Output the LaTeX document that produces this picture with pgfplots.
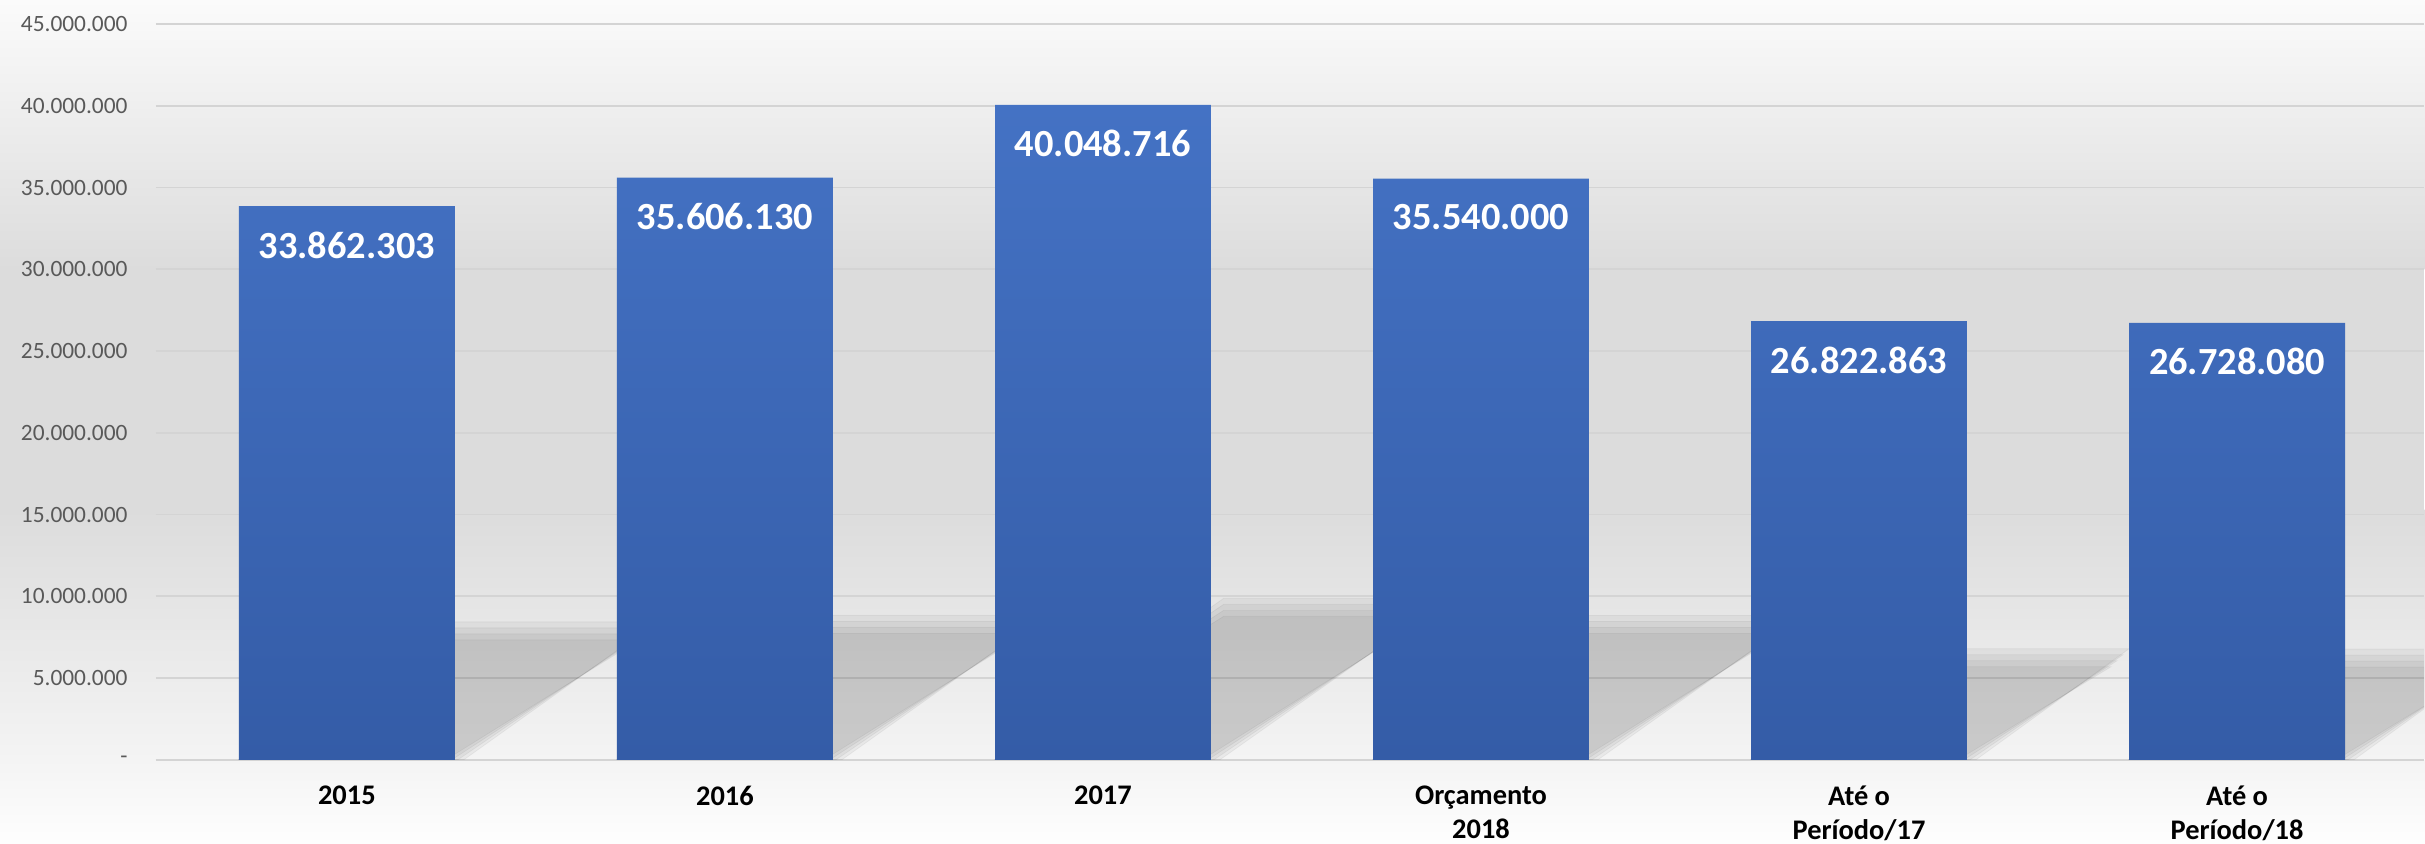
\documentclass[border=0pt]{standalone}
\usepackage{fontspec}
\setmainfont{Carlito}
\usepackage{pgfplots}
\usepackage{pgfplotstable}
\pgfplotsset{compat=1.18}

\definecolor{barTop}{HTML}{4472C4}
\definecolor{barBot}{HTML}{345CA7}
\definecolor{gridc}{HTML}{D4D4D4}
\definecolor{tickc}{HTML}{595959}
\definecolor{bgTop}{HTML}{FBFBFB}
\definecolor{bgMid}{HTML}{DCDCDC}
\definecolor{bgLow}{HTML}{F4F4F4}
\definecolor{bgEnd}{HTML}{FEFEFE}

% valores anuais
\pgfplotstableread{
x y label
0 33862303 33.862.303
1 35606130 35.606.130
2 40048716 40.048.716
3 35540000 35.540.000
4 26822863 26.822.863
5 26728080 26.728.080
}\valores

\begin{document}
\begin{tikzpicture}
% fundo em degrade
\shade[top color=bgTop, bottom color=bgMid, draw=none] (-78pt,245pt) rectangle (1134.5pt,380pt);
\fill[bgMid] (-78pt,125pt) rectangle (1134.5pt,245.2pt);
\shade[top color=bgMid, bottom color=bgLow, draw=none] (-78pt,0pt) rectangle (1134.5pt,125.2pt);
\shade[top color=bgLow, bottom color=bgEnd, draw=none] (-78pt,-42pt) rectangle (1134.5pt,0.2pt);
\begin{axis}[
    at={(0,0)}, anchor=south west,
    scale only axis,
    width=1134.5pt, height=368pt,
    xmin=-0.505, xmax=5.495,
    ymin=0, ymax=45000000,
    xtick={0,...,5},
    xticklabels={2015,2016,2017,{Orçamento\\2018},{Até o\\Período/17},{Até o\\Período/18}},
    ytick={0,5000000,...,45000000},
    yticklabels={-,5.000.000,10.000.000,15.000.000,20.000.000,25.000.000,30.000.000,35.000.000,40.000.000,45.000.000},
    scaled y ticks=false,
    /pgf/number format/assume math mode=true,
    ymajorgrids,
    major grid style={gridc, line width=0.8pt},
    axis x line=bottom,
    axis y line=left,
    x axis line style={gridc, line width=0.8pt, -},
    y axis line style={draw=none},
    major tick length=0pt,
    tick style={draw=none},
    yticklabel style={font=\fontsize{11.7}{13}\selectfont, text=tickc, anchor=east, inner sep=0pt, xshift=-14pt},
    xticklabel style={font=\bfseries\fontsize{14.2}{17}\selectfont, align=center, anchor=north, inner sep=0pt, yshift=-13pt},
    clip marker paths=true,
]
% sombra em perspectiva de cada coluna (bordas suavizadas em camadas)
\addplot[scatter, only marks, mark=*, mark size=0pt,
    point meta=\thisrow{y}, point meta min=0, point meta max=45000000,
    scatter/@pre marker code/.code={%
        \begin{scope}
        \pgfmathsetmacro\sh{0.0857*\pgfplotspointmetatransformed}%
        \pgfmathsetmacro\sd{1.5*\sh}%
        \foreach \d in {-4.5,-1.5,1.5,4.5}{%
            \fill[black, opacity=0.045] (-54pt,0pt) -- ({54pt+\d pt},0pt)
                -- ({54pt+\sd pt+\d pt},{\sh pt+\d pt}) -- ({-54pt+\sd pt},{\sh pt+\d pt}) -- cycle;
        }
    },
    scatter/@post marker code/.code={\end{scope}},
] table[x=x, y expr=0] {\valores};
\addplot[ybar, bar width=0.571, bar shift=0pt, draw=none,
    top color=barTop, bottom color=barBot,
    point meta=explicit symbolic,
    nodes near coords,
    nodes near coords align={below},
    every node near coord/.append style={anchor=north, inner sep=0pt, yshift=-12.5pt,
        text=white, font=\bfseries\fontsize{19.2}{21}\selectfont},
] table[x=x, y=y, meta=label] {\valores};
\end{axis}
\end{tikzpicture}
\end{document}
